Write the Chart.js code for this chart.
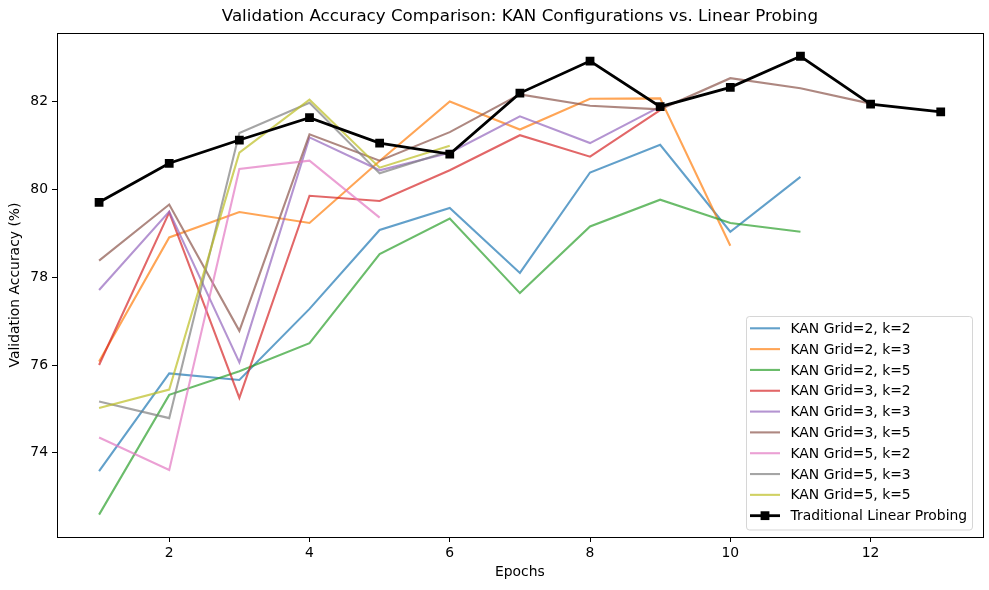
<!DOCTYPE html>
<html>
<head>
<meta charset="utf-8">
<script src="https://cdn.jsdelivr.net/npm/chart.js@4/dist/chart.umd.min.js"></script>
<style>
  html, body { margin: 0; padding: 0; background: #fff; }
  #wrap { width: 989px; height: 590px; }
</style>
</head>
<body>
<div id="wrap"><canvas id="c" width="989" height="590"></canvas></div>
<script>
// ---- Data ----
const epochs = [1, 2, 3, 4, 5, 6, 7, 8, 9, 10, 11, 12, 13];
const seriesLabels = [
  "KAN Grid=2, k=2", "KAN Grid=2, k=3", "KAN Grid=2, k=5",
  "KAN Grid=3, k=2", "KAN Grid=3, k=3", "KAN Grid=3, k=5",
  "KAN Grid=5, k=2", "KAN Grid=5, k=3", "KAN Grid=5, k=5"
];
const kanG2k2 = [73.58, 75.81, 75.66, 77.28, 79.08, 79.58, 78.10, 80.39, 81.02, 79.04, 80.29];
const kanG2k3 = [76.08, 78.91, 79.49, 79.24, 80.65, 82.01, 81.37, 82.07, 82.08, 78.72];
const kanG2k5 = [72.59, 75.32, 75.86, 76.50, 78.53, 79.34, 77.64, 79.16, 79.77, 79.24, 79.04];
const kanG3k2 = [76.00, 79.48, 75.25, 79.86, 79.74, 80.44, 81.24, 80.75, 81.81];
const kanG3k3 = [77.71, 79.50, 76.06, 81.19, 80.44, 80.84, 81.67, 81.06, 81.89];
const kanG3k5 = [78.38, 79.66, 76.78, 81.26, 80.66, 81.31, 82.17, 81.91, 81.83, 82.54, 82.31, 81.96];
const kanG5k2 = [74.35, 73.61, 80.47, 80.66, 79.36];
const kanG5k3 = [75.17, 74.79, 81.29, 81.98, 80.37, 80.88];
const kanG5k5 = [75.02, 75.44, 80.84, 82.05, 80.50, 81.00];
const linearLabel = "Traditional Linear Probing";
const linearProbing = [79.71, 80.60, 81.13, 81.64, 81.06, 80.81, 82.20, 82.93, 81.89, 82.33, 83.04, 81.95, 81.77];
const xTicks = [2, 4, 6, 8, 10, 12];
const yTicks = [74, 76, 78, 80, 82];

// ---- Styling ----
const kanSeries = [kanG2k2, kanG2k3, kanG2k5, kanG3k2, kanG3k3, kanG3k5, kanG5k2, kanG5k3, kanG5k5];
const tab10 = [
  [31,119,180],[255,127,14],[44,160,44],[214,39,40],[148,103,189],
  [140,86,75],[227,119,194],[127,127,127],[188,189,34]
];
const FONT = "'DejaVu Sans', sans-serif";
const toPts = vals => vals.map((v, i) => ({ x: epochs[i], y: v }));

const datasets = kanSeries.map((vals, i) => ({
  label: seriesLabels[i],
  data: toPts(vals),
  borderColor: `rgba(${tab10[i].join(',')},0.7)`,
  backgroundColor: `rgba(${tab10[i].join(',')},0.7)`,
  borderWidth: 2.1,
  pointRadius: 0,
  tension: 0,
  order: 20 - i
}));
datasets.push({
  label: linearLabel,
  data: toPts(linearProbing),
  borderColor: '#000',
  backgroundColor: '#000',
  borderWidth: 2.8,
  pointStyle: 'rect',
  pointRadius: 6.2,
  pointHoverRadius: 6.2,
  pointBorderWidth: 0,
  tension: 0,
  order: 0
});

const framePlugin = {
  id: 'frame',
  afterDraw(chart) {
    const { ctx, chartArea: a } = chart;
    ctx.save();
    ctx.strokeStyle = '#000';
    ctx.lineWidth = 1;
    ctx.strokeRect(Math.round(a.left) + 0.5, Math.round(a.top) + 0.5,
                   Math.round(a.right - a.left), Math.round(a.bottom - a.top));
    // title
    ctx.fillStyle = '#000';
    ctx.font = `16.7px ${FONT}`;
    ctx.textAlign = 'center';
    ctx.textBaseline = 'alphabetic';
    ctx.fillText("Validation Accuracy Comparison: KAN Configurations vs. Linear Probing",
                 (a.left + a.right) / 2, 21);
    // legend
    const bx = 746.5, by = 316.5, bw = 226, bh = 213.5, r = 3;
    ctx.beginPath();
    ctx.moveTo(bx + r, by);
    ctx.lineTo(bx + bw - r, by); ctx.quadraticCurveTo(bx + bw, by, bx + bw, by + r);
    ctx.lineTo(bx + bw, by + bh - r); ctx.quadraticCurveTo(bx + bw, by + bh, bx + bw - r, by + bh);
    ctx.lineTo(bx + r, by + bh); ctx.quadraticCurveTo(bx, by + bh, bx, by + bh - r);
    ctx.lineTo(bx, by + r); ctx.quadraticCurveTo(bx, by, bx + r, by);
    ctx.closePath();
    ctx.fillStyle = 'rgba(255,255,255,0.8)';
    ctx.fill();
    ctx.strokeStyle = 'rgba(204,204,204,0.8)';
    ctx.stroke();
    ctx.font = `13.9px ${FONT}`;
    ctx.textAlign = 'left';
    ctx.textBaseline = 'middle';
    chart.data.datasets.forEach((ds, i) => {
      const y = 328.3 + i * 20.82;
      ctx.strokeStyle = ds.borderColor;
      ctx.lineWidth = ds.borderWidth;
      ctx.beginPath();
      ctx.moveTo(750, y); ctx.lineTo(780, y);
      ctx.stroke();
      if (ds.pointRadius > 0) {
        const s = 4.4;
        ctx.fillStyle = ds.backgroundColor;
        ctx.fillRect(765 - s, y - s, 2 * s, 2 * s);
      }
      ctx.fillStyle = '#000';
      ctx.fillText(ds.label, 790.5, y + 1);
    });
    ctx.restore();
  }
};

new Chart(document.getElementById('c'), {
  type: 'line',
  data: { datasets },
  plugins: [framePlugin],
  options: {
    responsive: false,
    animation: false,
    devicePixelRatio: 1,
    layout: { padding: { top: 33, right: 6, left: 0, bottom: 0 } },
    plugins: {
      legend: { display: false },
      title: { display: false },
      tooltip: { enabled: false }
    },
    scales: {
      x: {
        type: 'linear',
        min: 0.4,
        max: 13.6,
        afterBuildTicks: s => { s.ticks = xTicks.map(v => ({ value: v })); },
        afterFit: s => { s.height = 53; },
        grid: { display: true, drawOnChartArea: false, drawTicks: true, tickLength: 5, color: '#000' },
        border: { display: true, color: '#000' },
        ticks: { color: '#000', font: { family: FONT, size: 13.9 }, padding: 3, maxRotation: 0 },
        title: { display: true, text: 'Epochs', color: '#000', font: { family: FONT, size: 13.9 }, padding: { top: 0, bottom: 9.5 } }
      },
      y: {
        type: 'linear',
        min: 72.08,
        max: 83.57,
        afterBuildTicks: s => { s.ticks = yTicks.map(v => ({ value: v })); },
        afterFit: s => { s.width = 57; },
        grid: { display: true, drawOnChartArea: false, drawTicks: true, tickLength: 5, color: '#000' },
        border: { display: true, color: '#000' },
        ticks: { color: '#000', font: { family: FONT, size: 13.9 }, padding: 4 },
        title: { display: true, text: 'Validation Accuracy (%)', color: '#000', font: { family: FONT, size: 13.9 }, padding: { top: 7, bottom: 0 } }
      }
    }
  }
});
</script>
</body>
</html>
